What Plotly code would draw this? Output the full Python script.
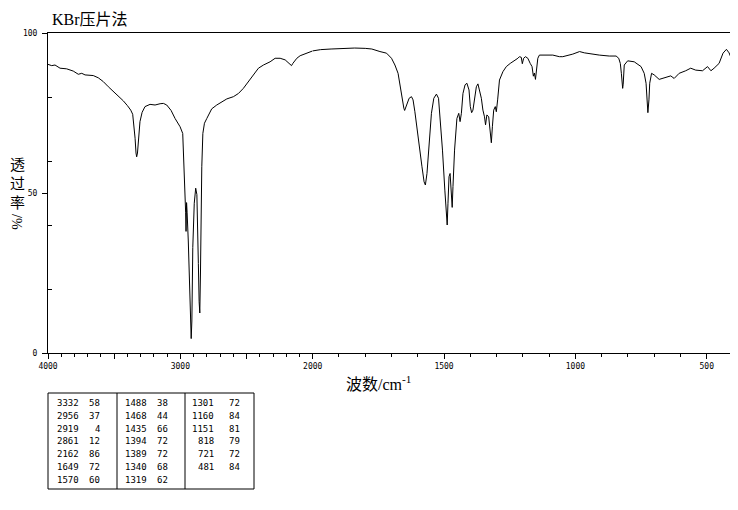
import plotly.graph_objects as go

# page body has an 8px default margin; lay out in window pixels and compensate
OFF = 8
WIN_W, WIN_H = 738, 510
W, H = WIN_W - OFF, WIN_H - OFF

# ---------------- data ----------------
wavenumber = [4000, 3972, 3947, 3930, 3909, 3859, 3809, 3771, 3745, 3720, 3658, 3620, 3582, 3544, 3506,
              3469, 3431, 3400, 3375, 3360, 3350, 3342, 3335, 3330, 3324, 3316, 3305, 3289, 3267, 3229,
              3191, 3153, 3128, 3103, 3070, 3040, 3002, 2982, 2977, 2970, 2964, 2960, 2957, 2953, 2949,
              2940, 2930, 2921, 2918, 2913, 2906, 2895, 2884, 2875, 2868, 2864, 2858, 2853, 2848, 2843,
              2838, 2830, 2818, 2800, 2763, 2725, 2687, 2649, 2599, 2561, 2524, 2486, 2448, 2410, 2372,
              2322, 2284, 2246, 2208, 2171, 2160, 2150, 2120, 2095, 2050, 2000,
              1970, 1930, 1880, 1840, 1800, 1775, 1744, 1719, 1700, 1687, 1675, 1666, 1660, 1653, 1650,
              1643, 1633, 1624, 1618, 1611, 1603, 1593, 1584, 1576, 1571, 1565, 1557, 1548, 1539, 1529,
              1521, 1514, 1506, 1497, 1491, 1488, 1485, 1481, 1477, 1474, 1469, 1466, 1460, 1451, 1444,
              1439, 1434, 1428, 1420, 1413, 1405, 1400, 1395, 1390, 1384, 1377, 1371, 1365, 1358, 1352,
              1346, 1342, 1337, 1330, 1324, 1320, 1316, 1311, 1305, 1301, 1296, 1289, 1276, 1263, 1248,
              1232, 1219, 1213, 1206, 1202, 1197, 1190, 1181, 1172, 1165, 1160, 1156, 1152, 1148, 1143,
              1137, 1124, 1086, 1061, 1048, 1010, 984, 966, 940, 909, 871, 845, 835, 829, 825,
              820, 818, 814, 801, 776, 750, 738, 731, 728, 724, 720, 717, 710, 700, 681,
              656, 637, 624, 605, 580, 561, 542, 516, 497, 484, 472, 453, 438, 425, 415,
              405, 400]
transmittance = [90.2, 89.8, 90.0, 89.5, 89.0, 88.8, 88.1, 87.1, 87.4, 86.9, 86.7, 86.0, 84.8, 83.2, 81.7,
                 80.4, 78.8, 77.3, 75.9, 74.6, 71.3, 67.1, 62.5, 61.3, 62.5, 67.5, 72.3, 75.2, 77.0, 77.7,
                 77.5, 77.9, 78.0, 77.5, 75.8, 73.3, 70.7, 68.6, 63.4, 57.0, 52.0, 44.0, 38.0, 47.0, 44.0,
                 35.0, 18.0, 6.0, 4.5, 10.0, 33.0, 46.8, 51.5, 49.5, 40.0, 28.0, 16.0, 12.5, 25.0, 45.0,
                 58.2, 68.6, 71.8, 73.3, 76.3, 77.5, 78.5, 79.4, 80.1, 81.1, 82.7, 84.8, 86.9, 89.0, 90.0,
                 91.0, 92.1, 92.1, 91.6, 90.2, 89.8, 90.5, 92.1, 92.9, 93.7, 94.4,
                 94.8, 95.0, 95.2, 95.3, 95.2, 95.0, 94.2, 93.7, 92.1, 90.0, 87.4, 83.2, 79.1, 76.5, 75.8,
                 77.5, 79.6, 80.1, 79.1, 75.4, 69.7, 63.4, 58.2, 53.5, 52.5, 56.1, 66.6, 74.9, 79.6, 80.9,
                 79.6, 72.8, 63.4, 50.9, 41.0, 40.0, 46.8, 55.1, 56.1, 52.0, 45.5, 52.0, 63.4, 73.3, 74.9,
                 72.3, 74.9, 81.1, 83.8, 84.3, 82.2, 77.0, 75.1, 75.9, 79.6, 83.2, 84.1, 82.2, 79.6, 75.9,
                 73.8, 71.3, 74.4, 73.8, 69.7, 65.7, 70.7, 75.9, 77.0, 75.4, 79.1, 85.3, 87.9, 89.5, 90.5,
                 91.3, 92.1, 92.6, 92.4, 90.4, 92.1, 92.6, 92.1, 90.5, 89.5, 86.5, 87.5, 85.5, 89.0, 92.1,
                 93.1, 93.1, 93.1, 92.6, 92.6, 93.4, 94.2, 93.8, 93.4, 93.1, 92.8, 92.8, 92.1, 90.5, 87.4,
                 82.7, 84.0, 90.0, 91.3, 91.0, 89.5, 87.4, 84.3, 79.1, 75.1, 79.1, 84.3, 87.4, 86.9, 85.5,
                 86.1, 86.6, 85.8, 87.4, 88.2, 89.0, 88.4, 88.2, 89.5, 88.2, 89.0, 90.5, 93.7, 94.9, 93.8,
                 91.8, 91.5]

x_ticks_high = [4000, 3500, 3000, 2500]
x_ticktext_high = ["4000", " ", "3000", " "]
x_ticks_low = [2000, 1500, 1000, 500]
x_ticktext_low = ["2000", "1500", "1000", "500"]
y_ticks = [0, 50, 100]
y_ticktext = ["0", "50", "100"]
y_minor = [20, 40, 60, 80]

peak_wn = [3332, 2956, 2919, 2861, 2162, 1649, 1570,
           1488, 1468, 1435, 1394, 1389, 1340, 1319,
           1301, 1160, 1151, 818, 721, 481]
peak_t = [58, 37, 4, 12, 86, 72, 60,
          38, 44, 66, 72, 72, 68, 62,
          72, 84, 81, 79, 72, 84]

title_text = "KBr压片法"
x_title = "波数/cm<sup>-1</sup>"
y_title_chars = ["透", "过", "率"]
y_title_unit = "/%"

# ---------------- geometry helpers (window pixels -> paper) ----------------
def px(x):
    return (x - OFF) / W

def py(y):
    return 1 - (y - OFF) / H

X0, XS, X1 = 48, 312.7, 733
Y0, Y1 = 33, 353

hi_x = [w for w in wavenumber if w >= 2000]
hi_y = [t for w, t in zip(wavenumber, transmittance) if w >= 2000]
lo_x = [w for w in wavenumber if w <= 2000]
lo_y = [t for w, t in zip(wavenumber, transmittance) if w <= 2000]

line = dict(color="black", width=1)
fig = go.Figure()
fig.add_trace(go.Scatter(x=hi_x, y=hi_y, mode="lines", line=line, xaxis="x", yaxis="y",
                         showlegend=False, hoverinfo="skip"))
fig.add_trace(go.Scatter(x=lo_x, y=lo_y, mode="lines", line=line, xaxis="x2", yaxis="y2",
                         showlegend=False, hoverinfo="skip"))

tickfont = dict(family="DejaVu Sans Mono", size=8, color="black")
ydom = [py(Y1), py(Y0)]

fig.update_layout(
    width=W, height=H,
    margin=dict(l=0, r=0, t=0, b=0, autoexpand=False),
    paper_bgcolor="white", plot_bgcolor="white",
    xaxis=dict(domain=[px(X0), px(XS)], range=[4000, 2000], anchor="y", automargin=False,
               showline=True, linecolor="black", linewidth=1, mirror=True,
               showgrid=False, zeroline=False,
               tickmode="array", tickvals=x_ticks_high, ticktext=x_ticktext_high,
               ticks="outside", ticklen=5, tickcolor="black", tickfont=tickfont,
               minor=dict(tickmode="array", tickvals=list(range(3900, 2000, -100)),
                          ticks="outside", ticklen=3, tickcolor="black")),
    xaxis2=dict(domain=[px(XS), px(X1)], range=[2000, 400], anchor="y2", automargin=False,
                showline=True, linecolor="black", linewidth=1, mirror=True,
                showgrid=False, zeroline=False,
                tickmode="array", tickvals=x_ticks_low, ticktext=x_ticktext_low,
                ticks="outside", ticklen=5, tickcolor="black", tickfont=tickfont,
                minor=dict(tickmode="array", tickvals=list(range(1900, 400, -100)),
                           ticks="outside", ticklen=3, tickcolor="black")),
    yaxis=dict(domain=ydom, range=[0, 100], anchor="x", automargin=False,
               showline=True, linecolor="black", linewidth=1, mirror=False,
               showgrid=False, zeroline=False,
               tickmode="array", tickvals=y_ticks, ticktext=y_ticktext,
               ticks="outside", ticklen=5, tickcolor="black", tickfont=tickfont,
               ticklabelstandoff=3,
               minor=dict(tickmode="array", tickvals=y_minor, ticks="inside",
                          ticklen=4, tickcolor="black")),
    yaxis2=dict(domain=ydom, range=[0, 100], anchor="x2", side="right", automargin=False,
                showline=True, linecolor="black", linewidth=1,
                showgrid=False, zeroline=False, showticklabels=False, ticks=""),
)

serif_cjk = "Liberation Serif, Noto Sans CJK SC"
YT_X = 17
annotations = [
    dict(text=title_text, x=px(50), y=py(20), xref="paper", yref="paper",
         xanchor="left", yanchor="middle", showarrow=False,
         font=dict(family=serif_cjk, size=16, color="black")),
    dict(text=x_title, x=px(378), y=py(383), xref="paper", yref="paper",
         xanchor="center", yanchor="middle", showarrow=False,
         font=dict(family=serif_cjk, size=16, color="black")),
    dict(text=y_title_unit, x=px(YT_X), y=py(222), xref="paper", yref="paper",
         xanchor="center", yanchor="middle", showarrow=False, textangle=90,
         font=dict(family="Liberation Serif", size=14, color="black")),
]
for k, ch in enumerate(y_title_chars):
    annotations.append(dict(text=ch, x=px(YT_X), y=py(164 + 18.5 * k), xref="paper", yref="paper",
                            xanchor="center", yanchor="middle", showarrow=False,
                            font=dict(family="Noto Sans CJK SC", size=15, color="black")))

# ---------------- peak table ----------------
TL, TR, TT, TB = 48, 254, 393, 489
dividers = [117, 185]
shapes = [dict(type="rect", xref="paper", yref="paper", x0=px(TL), x1=px(TR), y0=py(TB), y1=py(TT),
               line=dict(color="black", width=1))]
for d in dividers:
    shapes.append(dict(type="line", xref="paper", yref="paper", x0=px(d), x1=px(d),
                       y0=py(TB), y1=py(TT), line=dict(color="black", width=1)))

col_num_right = [81, 148.5, 216]
col_val_right = [102, 170, 242]
row_y0, row_step = 403, 12.8
rows_per_col = 7
tfont = dict(family="DejaVu Sans Mono", size=9, color="black")
for i, (w, t) in enumerate(zip(peak_wn, peak_t)):
    c, r = divmod(i, rows_per_col)
    yy = row_y0 + r * row_step
    annotations.append(dict(text=str(w), x=px(col_num_right[c]), y=py(yy), xref="paper", yref="paper",
                            xanchor="right", yanchor="middle", showarrow=False, font=tfont))
    annotations.append(dict(text=str(t), x=px(col_val_right[c]), y=py(yy), xref="paper", yref="paper",
                            xanchor="right", yanchor="middle", showarrow=False, font=tfont))

fig.update_layout(annotations=annotations, shapes=shapes)
fig.write_html("out.html")
